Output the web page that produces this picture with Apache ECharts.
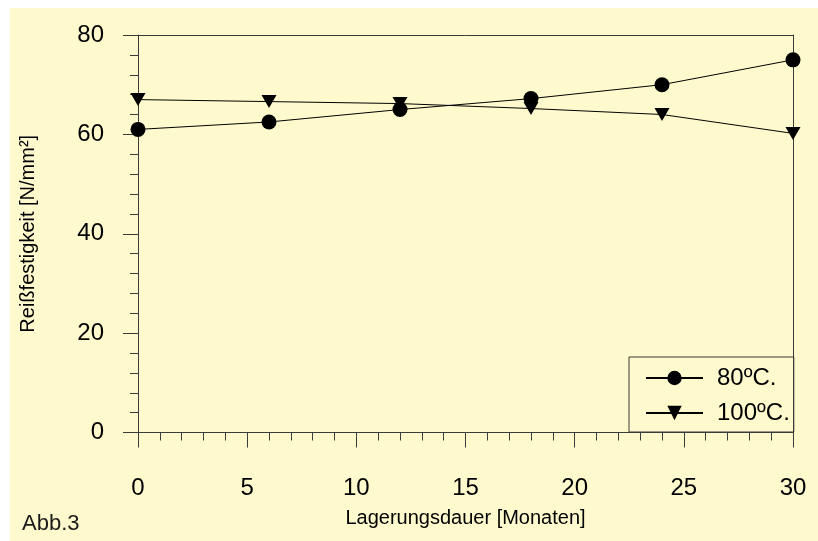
<!DOCTYPE html>
<html>
<head>
<meta charset="utf-8">
<script src="https://cdn.jsdelivr.net/npm/echarts@6/dist/echarts.min.js"></script>
<style>
html,body{margin:0;padding:0;background:#ffffff;}
#wrap{position:relative;width:818px;height:541px;overflow:hidden;background:#ffffff;}
#chart{position:absolute;left:10px;top:8px;width:808px;height:533px;background:#FFFACD;}
</style>
</head>
<body>
<div id="wrap"><div id="chart"></div></div>
<script>
// Data
const months = [0, 6, 12, 18, 24, 30];
const series80 = [61, 62.5, 65, 67.2, 70, 75];
const series100 = [67, 66.6, 66.2, 65.2, 64, 60.2];
const seriesNames = ['80ºC.', '100ºC.'];
const xTitle = 'Lagerungsdauer [Monaten]';
const yTitle = 'Reißfestigkeit [N/mm²]';
const noteText = 'Abb.3';

const font = 'Liberation Sans, Arial, Helvetica, sans-serif';
const axisColor = '#3a3a3a';

const chart = echarts.init(document.getElementById('chart'), null, {renderer: 'canvas'});

function pairs(xs, ys){ return xs.map((x, i) => [x, ys[i]]); }

chart.setOption({
  animation: false,
  backgroundColor: 'transparent',
  textStyle: {fontFamily: font, color: '#000'},
  grid: {left: 125, top: 27, right: 25, bottom: 108.5, containLabel: false},
  xAxis: [{
    type: 'value', min: 0, max: 30, interval: 5, position: 'bottom',
    name: xTitle, nameLocation: 'middle', nameGap: 76,
    nameTextStyle: {fontSize: 20, color: '#000', fontFamily: font},
    axisLine: {show: true, onZero: false, lineStyle: {color: axisColor, width: 1}},
    axisTick: {show: true, inside: false, length: 15, lineStyle: {color: axisColor}},
    minorTick: {show: true, splitNumber: 5, length: 8, lineStyle: {color: axisColor}},
    axisLabel: {fontSize: 24, color: '#000', margin: 44, fontFamily: font},
    splitLine: {show: false}
  }, {
    type: 'value', min: 0, max: 30, position: 'top',
    axisLine: {show: true, onZero: false, lineStyle: {color: axisColor, width: 1}},
    axisTick: {show: false}, axisLabel: {show: false}, splitLine: {show: false}
  }],
  yAxis: [{
    type: 'value', min: 0, max: 80, interval: 20, position: 'left',
    name: yTitle, nameLocation: 'middle', nameGap: 100, nameRotate: 90,
    nameTextStyle: {fontSize: 20, color: '#000', fontFamily: font},
    axisLine: {show: true, onZero: false, lineStyle: {color: axisColor, width: 1}},
    axisTick: {show: true, inside: false, length: 15, lineStyle: {color: axisColor}},
    minorTick: {show: true, splitNumber: 5, length: 8, lineStyle: {color: axisColor}},
    axisLabel: {fontSize: 24, color: '#000', margin: 34, fontFamily: font, padding: [10, 0, 0, 0]},
    splitLine: {show: false}
  }, {
    type: 'value', min: 0, max: 80, position: 'right',
    axisLine: {show: true, onZero: false, lineStyle: {color: axisColor, width: 1}},
    axisTick: {show: false}, axisLabel: {show: false}, splitLine: {show: false}
  }],
  legend: {
    show: true,
    orient: 'vertical',
    left: 619, top: 349,
    align: 'left',
    itemWidth: 57, itemHeight: 18, itemGap: 11,
    padding: [9, 4, 7, 16],
    borderColor: axisColor, borderWidth: 1,
    backgroundColor: 'transparent',
    textStyle: {fontSize: 24, lineHeight: 24, color: '#000', fontFamily: font, padding: [0, 0, 0, 9]},
    data: seriesNames
  },
  series: [{
    name: seriesNames[0], type: 'line', xAxisIndex: 0, yAxisIndex: 0,
    data: pairs(months, series80),
    symbol: 'circle', symbolSize: 15,
    lineStyle: {color: '#000', width: 1},
    itemStyle: {color: '#000'},
    z: 3
  }, {
    name: seriesNames[1], type: 'line', xAxisIndex: 0, yAxisIndex: 0,
    data: pairs(months, series100),
    symbol: 'triangle', symbolSize: [15, 13], symbolRotate: 180,
    lineStyle: {color: '#000', width: 1},
    itemStyle: {color: '#000'},
    z: 4
  }],
  graphic: [{
    type: 'text', left: 12, top: 505,
    style: {text: noteText, font: '22px ' + font, fill: '#1a1a1a'}
  }]
});
</script>
</body>
</html>
